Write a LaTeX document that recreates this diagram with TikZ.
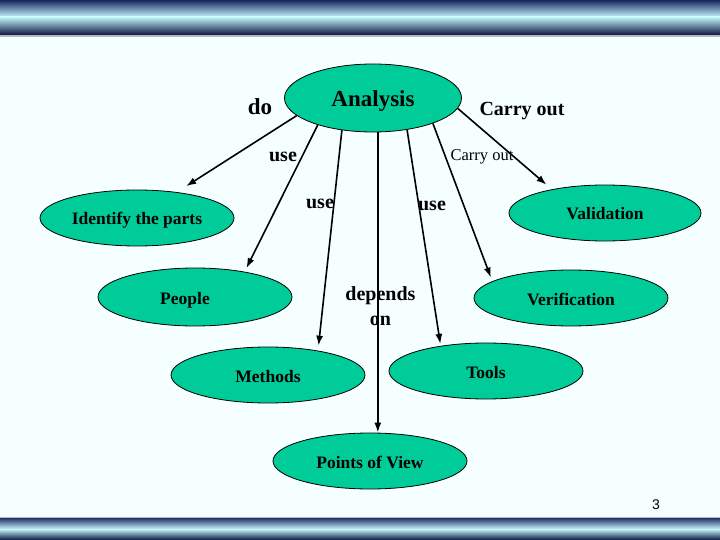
\documentclass[tikz,border=0pt]{standalone}
\usepackage{fontspec}
\setmainfont{Liberation Serif}
\newfontfamily\pagefont{Liberation Sans}
\usetikzlibrary{shapes.geometric,arrows.meta}
\definecolor{paper}{RGB}{245,255,255}
\definecolor{nodegreen}{RGB}{0,204,153}
\definecolor{barnavy}{RGB}{35,50,105}
\definecolor{bardark}{RGB}{10,20,65}
\definecolor{barcyan}{RGB}{195,245,250}
\begin{document}
\begin{tikzpicture}[x=1pt,y=-1pt,>={Latex[length=10pt,width=7pt]},
	topic/.style={ellipse,draw=black,line width=0.8pt,fill=nodegreen,inner sep=0pt,
		minimum width=194pt,minimum height=56pt,text height=17pt,text depth=3pt,
		font=\fontsize{17.5}{20}\selectfont\bfseries},
	link/.style={->,line width=1.6pt},
	verb/.style={inner sep=0pt,anchor=base,font=\fontsize{20}{25}\selectfont\bfseries}]
\useasboundingbox (0,0) rectangle (720,540);
\fill[paper] (0,0) rectangle (720,540);

% bars
\fill[gray!55] (0,0) rectangle (720,37);
\shade[top color=barnavy,bottom color=barcyan] (0,1) rectangle (720,17);
\shade[top color=barcyan,bottom color=bardark] (0,17) rectangle (720,35);
\fill[gray!55] (0,517) rectangle (720,540);
\shade[top color=barnavy,bottom color=barcyan] (0,518) rectangle (720,529);
\shade[top color=barcyan,bottom color=bardark] (0,529) rectangle (720,540);

\node[topic,minimum width=177pt,minimum height=68pt,text height=22pt,text depth=5pt,
	font=\fontsize{23}{26}\selectfont\bfseries] (ana) at (373,98) {Analysis};
\node[topic] (idp) at (137,218) {Identify the parts};
\node[topic,minimum height=58pt] (ppl) at (195,297) {People\hspace*{20pt}};
\node[topic,minimum width=192pt] (val) at (605,213) {Validation};
\node[topic] (ver) at (571,298) {Verification};
\node[topic] (met) at (268,375) {Methods};
\node[topic] (tls) at (486,371) {Tools};
\node[topic] (pov) at (370,461) {Points of View};

\draw[link,shorten >=11pt] (ana.193) -- (idp.33);
\draw[link,shorten >=4pt] (ana.206) -- (ppl.27);
\draw[link,shorten >=5pt] (ana.226) -- (met.26);
\draw[link] (ana.278) -- (ana.278 |- pov.north);
\draw[link,shorten >=2pt] (ana.317) -- (tls.151);
\draw[link,shorten >=4pt] (ana.337) -- (ver.168);
\draw[link,shorten >=7pt] (ana.353) -- (val.156);

\node[verb,font=\fontsize{23}{26}\selectfont\bfseries] (do) at (260,115) {do};
\node[verb] (carrybig) at (522,116) {Carry out};
\node[verb] (use1) at (283,161.5) {use};
\node[verb,font=\fontsize{16.5}{20}\selectfont] (carrysmall) at (482,161) {Carry out};
\node[verb] (use2) at (320,209) {use};
\node[verb] (use3) at (432,210.5) {use};
\node[verb,anchor=center,align=center] (dep) at (380.5,306.5) {depends\\on};

\node[inner sep=0pt,anchor=base,font=\pagefont\fontsize{14}{16}\selectfont] (pg) at (656,509) {3};
\end{tikzpicture}
\end{document}
